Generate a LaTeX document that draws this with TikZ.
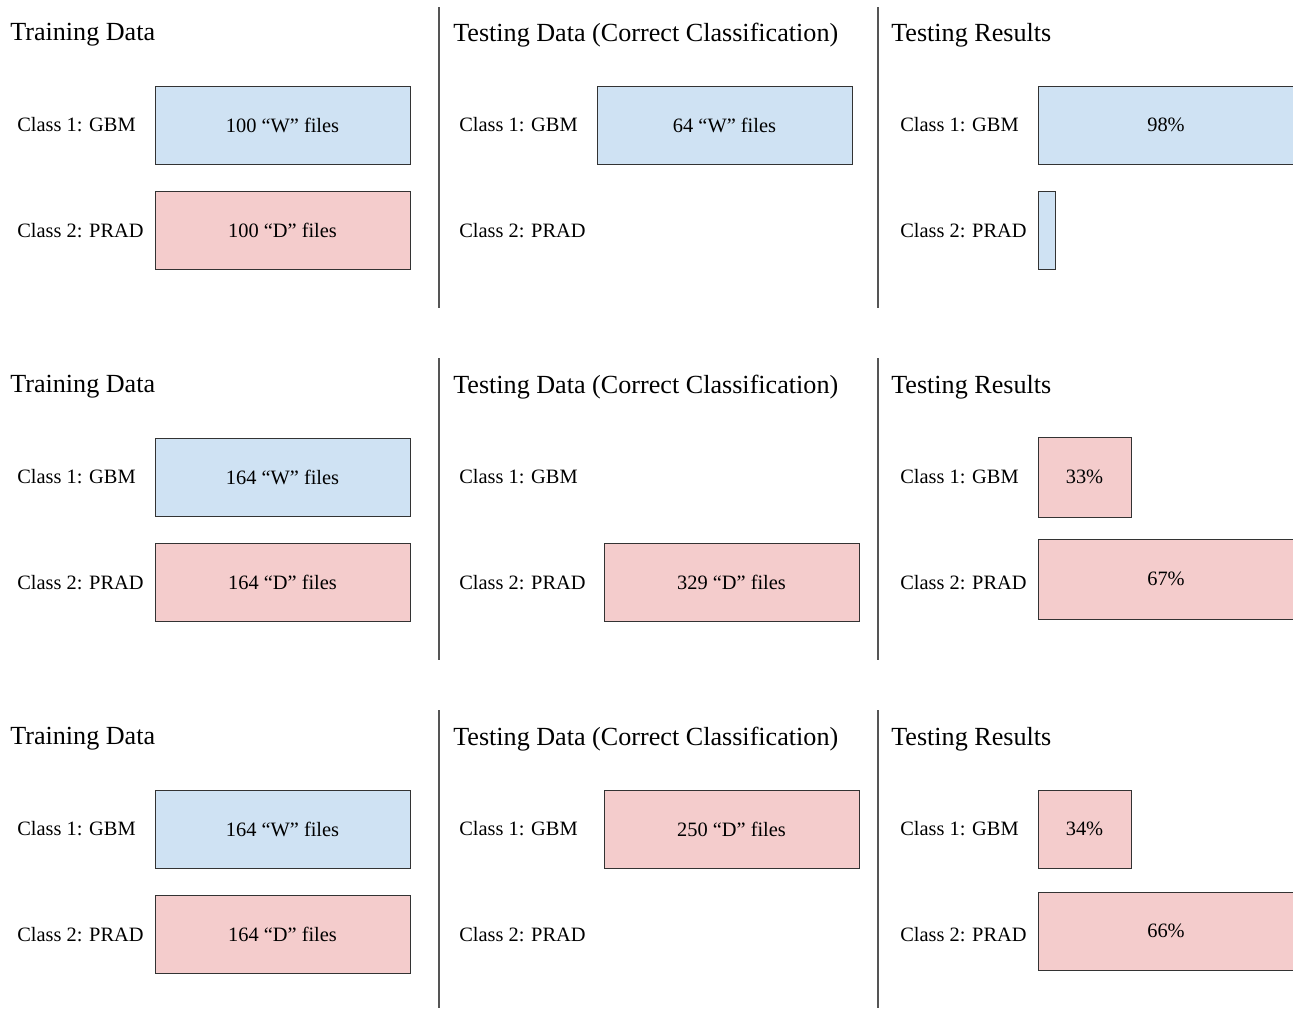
\documentclass[tikz,border=0pt]{standalone}
\usepackage{fontspec}
\setmainfont{Liberation Serif}
\definecolor{cblue}{HTML}{CFE2F3}
\definecolor{cpink}{HTML}{F4CCCC}
\definecolor{cedge}{HTML}{333333}
\definecolor{cdiv}{HTML}{555555}
\begin{document}
\begin{tikzpicture}[x=0.75pt,y=-0.75pt,
  title/.style={anchor=west,inner sep=0pt,font=\fontsize{19.6}{22}\selectfont},
  lbl/.style={anchor=west,inner sep=0pt,font=\fontsize{15.3}{18}\selectfont},
  bar/.style={draw=cedge,line width=0.7pt,inner sep=0pt,font=\fontsize{15.3}{18}\selectfont,minimum height=78*0.75pt},
  bluebar/.style={bar,fill=cblue},
  pinkbar/.style={bar,fill=cpink},
  divider/.style={draw=cdiv,line width=1pt}]
\useasboundingbox (0,0) rectangle (1293,1008);
% dividers
\coordinate (d1a) at (439,7);   \coordinate (d1b) at (439,308);
\coordinate (d2a) at (878,7);   \coordinate (d2b) at (878,308);
\coordinate (d3a) at (439,358); \coordinate (d3b) at (439,660);
\coordinate (d4a) at (878,358); \coordinate (d4b) at (878,660);
\coordinate (d5a) at (439,710); \coordinate (d5b) at (439,1008);
\coordinate (d6a) at (878,710); \coordinate (d6b) at (878,1008);
\draw[divider] (d1a) -- (d1b);
\draw[divider] (d2a) -- (d2b);
\draw[divider] (d3a) -- (d3b);
\draw[divider] (d4a) -- (d4b);
\draw[divider] (d5a) -- (d5b);
\draw[divider] (d6a) -- (d6b);

% ===== Row 1 =====
\node[title] (r1t1) at (10,35) {Training Data};
\node[title] (r1t2) at (453,35) {Testing Data (Correct Classification)};
\node[title] (r1t3) at (891,35) {Testing Results};
\node[lbl] (r1a1) at (17,125) {Class 1: GBM};
\node[lbl] (r1a2) at (17,231) {Class 2: PRAD};
\node[lbl] (r1b1) at (459,125) {Class 1: GBM};
\node[lbl] (r1b2) at (459,231) {Class 2: PRAD};
\node[lbl] (r1c1) at (900,125) {Class 1: GBM};
\node[lbl] (r1c2) at (900,231) {Class 2: PRAD};
\node[bluebar,minimum width=255*0.75pt] (r1tw) at (282.5,125) {100 “W” files};
\node[pinkbar,minimum width=255*0.75pt] (r1td) at (282.5,230) {100 “D” files};
\node[bluebar,minimum width=255*0.75pt] (r1sw) at (724.5,125) {64 “W” files};
\node[bluebar,minimum width=256*0.75pt] (r1r1) at (1166,125) {98\%};
\node[bluebar,minimum width=17.5*0.75pt] (r1r2) at (1046.75,230) {};

% ===== Row 2 =====
\node[title] (r2t1) at (10,387) {Training Data};
\node[title] (r2t2) at (453,387) {Testing Data (Correct Classification)};
\node[title] (r2t3) at (891,387) {Testing Results};
\node[lbl] (r2a1) at (17,477) {Class 1: GBM};
\node[lbl] (r2a2) at (17,583) {Class 2: PRAD};
\node[lbl] (r2b1) at (459,477) {Class 1: GBM};
\node[lbl] (r2b2) at (459,583) {Class 2: PRAD};
\node[lbl] (r2c1) at (900,477) {Class 1: GBM};
\node[lbl] (r2c2) at (900,583) {Class 2: PRAD};
\node[bluebar,minimum width=255*0.75pt] (r2tw) at (282.5,477) {164 “W” files};
\node[pinkbar,minimum width=255*0.75pt] (r2td) at (282.5,582) {164 “D” files};
\node[pinkbar,minimum width=255*0.75pt] (r2sd) at (731.5,582) {329 “D” files};
\node[pinkbar,minimum width=93*0.75pt,minimum height=80*0.75pt] (r2r1) at (1084.5,477) {33\%};
\node[pinkbar,minimum width=256*0.75pt,minimum height=80*0.75pt] (r2r2) at (1166,579) {67\%};

% ===== Row 3 =====
\node[title] (r3t1) at (10,739) {Training Data};
\node[title] (r3t2) at (453,739) {Testing Data (Correct Classification)};
\node[title] (r3t3) at (891,739) {Testing Results};
\node[lbl] (r3a1) at (17,829) {Class 1: GBM};
\node[lbl] (r3a2) at (17,935) {Class 2: PRAD};
\node[lbl] (r3b1) at (459,829) {Class 1: GBM};
\node[lbl] (r3b2) at (459,935) {Class 2: PRAD};
\node[lbl] (r3c1) at (900,829) {Class 1: GBM};
\node[lbl] (r3c2) at (900,935) {Class 2: PRAD};
\node[bluebar,minimum width=255*0.75pt] (r3tw) at (282.5,829) {164 “W” files};
\node[pinkbar,minimum width=255*0.75pt] (r3td) at (282.5,934) {164 “D” files};
\node[pinkbar,minimum width=255*0.75pt] (r3sd) at (731.5,829) {250 “D” files};
\node[pinkbar,minimum width=93*0.75pt] (r3r1) at (1084.5,829) {34\%};
\node[pinkbar,minimum width=256*0.75pt] (r3r2) at (1166,931) {66\%};
\end{tikzpicture}
\end{document}
